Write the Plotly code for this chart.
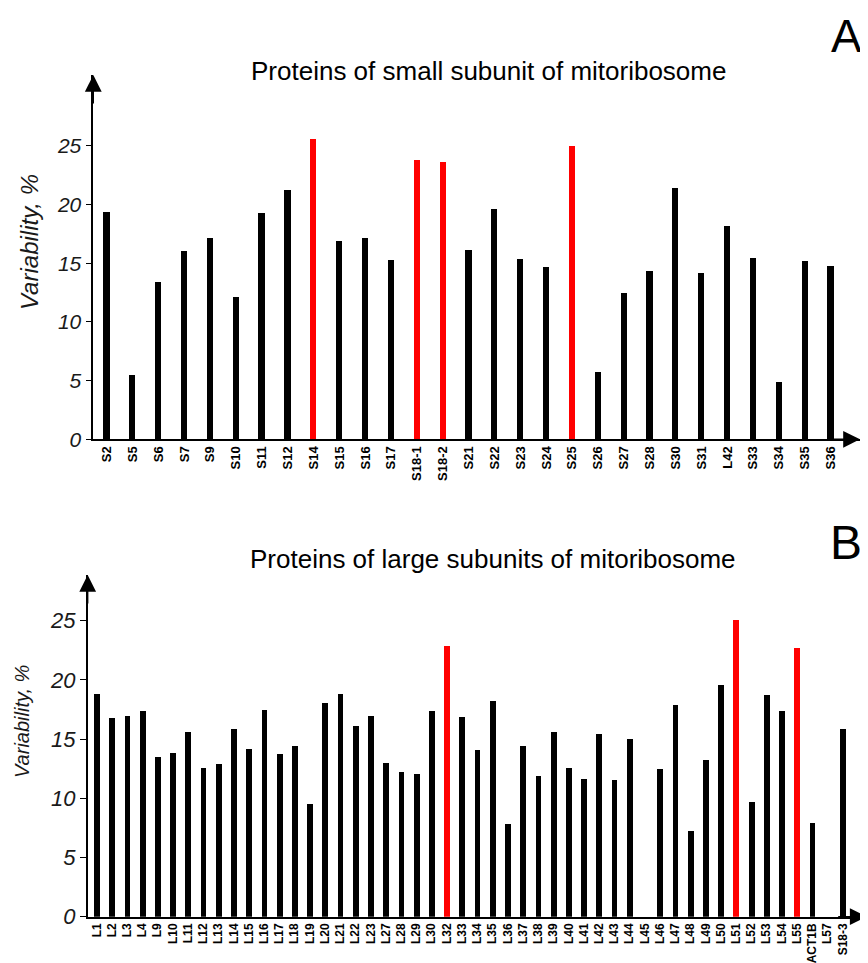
import plotly.graph_objects as go

# ---------------- data ----------------
small_labels = ["S2", "S5", "S6", "S7", "S9", "S10", "S11", "S12", "S14", "S15",
                "S16", "S17", "S18-1", "S18-2", "S21", "S22", "S23", "S24", "S25", "S26",
                "S27", "S28", "S30", "S31", "L42", "S33", "S34", "S35", "S36"]
small_values = [19.4, 5.45, 13.4, 16.0, 17.15, 12.15, 19.3, 21.2, 25.6, 16.9,
                17.15, 15.25, 23.8, 23.6, 16.15, 19.6, 15.4, 14.7, 24.95, 5.7,
                12.45, 14.35, 21.4, 14.15, 18.2, 15.45, 4.85, 15.2, 14.8]
small_highlight = ["S14", "S18-1", "S18-2", "S25"]

large_labels = ["L1", "L2", "L3", "L4", "L9", "L10", "L11", "L12", "L13", "L14",
                "L15", "L16", "L17", "L18", "L19", "L20", "L21", "L22", "L23", "L27",
                "L28", "L29", "L30", "L32", "L33", "L34", "L35", "L36", "L37", "L38",
                "L39", "L40", "L41", "L42", "L43", "L44", "L45", "L46", "L47", "L48",
                "L49", "L50", "L51", "L52", "L53", "L54", "L55", "ACT1B", "L57", "S18-3"]
large_values = [18.8, 16.75, 16.95, 17.35, 13.5, 13.8, 15.6, 12.55, 12.9, 15.85,
                14.2, 17.45, 13.7, 14.4, 9.5, 18.05, 18.8, 16.1, 16.95, 13.0,
                12.2, 12.05, 17.35, 22.9, 16.85, 14.1, 18.2, 7.8, 14.4, 11.85,
                15.6, 12.55, 11.65, 15.45, 11.55, 15.0, None, 12.45, 17.9, 7.25,
                13.2, 19.6, 25.05, 9.7, 18.7, 17.35, 22.7, 7.95, None, 15.85]
large_highlight = ["L32", "L51", "L55"]

small_title = "Proteins of small subunit of mitoribosome"
large_title = "Proteins of large subunits of mitoribosome"
y_title = "Variability, %"
y_ticks = [0, 5, 10, 15, 20, 25]

# ---------------- layout helpers ----------------
OFF = 8  # page body margin
W, H = 868 - OFF, 963 - OFF
def fx(p):
    return (p - OFF) / W
def fy(p):
    return 1 - (p - OFF) / H

RED = "#ff0000"
BLACK = "#000000"
FONT = "Liberation Sans, Arial, sans-serif"

fig = go.Figure()
fig.add_trace(go.Bar(
    x=small_labels, y=small_values, width=0.24,
    marker=dict(color=[RED if l in small_highlight else BLACK for l in small_labels], line=dict(width=0)),
    xaxis="x", yaxis="y", showlegend=False, hoverinfo="x+y"))
fig.add_trace(go.Bar(
    x=large_labels, y=large_values, width=0.38,
    marker=dict(color=[RED if l in large_highlight else BLACK for l in large_labels], line=dict(width=0)),
    xaxis="x2", yaxis="y2", showlegend=False, hoverinfo="x+y"))

top_xr = [-0.52, len(small_labels) - 1 + 1.13]
top_yr = [0, 31.03]
bot_xr = [-0.59, len(large_labels) - 1 + 1.58]
bot_yr = [0, 28.86]

xcommon = dict(type="category", showline=True, linecolor=BLACK, linewidth=1.6,
               showgrid=False, zeroline=False, ticks="", tickangle=-90,
               automargin=False, fixedrange=True)
ycommon = dict(showline=True, linecolor=BLACK, linewidth=1.6, showgrid=False,
               zeroline=False, ticks="outside", ticklen=6, tickwidth=1.3, tickcolor=BLACK,
               tickmode="array", tickvals=y_ticks, automargin=False, fixedrange=True)

fig.update_layout(
    width=W, height=H,
    margin=dict(l=0, r=0, t=0, b=0),
    paper_bgcolor="white", plot_bgcolor="white",
    bargap=0,
    xaxis=dict(xcommon, domain=[fx(93.3), fx(860)], range=top_xr, anchor="y",
               tickmode="array", tickvals=small_labels, ticktext=small_labels,
               tickfont=dict(family=FONT, size=13, color=BLACK, weight="bold")),
    yaxis=dict(ycommon, domain=[fy(439.3), fy(75)], range=top_yr, anchor="x",
               tickfont=dict(family=FONT, size=21, color="#1a1a1a", style="italic")),
    xaxis2=dict(xcommon, domain=[fx(87.7), fx(866.7)], range=bot_xr, anchor="y2",
                tickmode="array", tickvals=large_labels, ticktext=large_labels,
                tickfont=dict(family=FONT, size=12, color=BLACK, weight="bold")),
    yaxis2=dict(ycommon, domain=[fy(916.7), fy(575)], range=bot_yr, anchor="x2",
                tickfont=dict(family=FONT, size=22, color="#1a1a1a", style="italic")),
)

ann = []
# titles
ann.append(dict(text=small_title, xref="paper", yref="paper", x=fx(488), y=fy(71),
                xanchor="center", yanchor="middle", showarrow=False,
                font=dict(family=FONT, size=26, color=BLACK)))
ann.append(dict(text=large_title, xref="paper", yref="paper", x=fx(493), y=fy(559),
                xanchor="center", yanchor="middle", showarrow=False,
                font=dict(family=FONT, size=26, color=BLACK)))
# panel letters
ann.append(dict(text="A", xref="paper", yref="paper", x=fx(864), y=1,
                xanchor="right", yanchor="top", showarrow=False,
                font=dict(family=FONT, size=46, color=BLACK)))
ann.append(dict(text="B", xref="paper", yref="paper", x=fx(864), y=fy(542),
                xanchor="right", yanchor="middle", showarrow=False,
                font=dict(family=FONT, size=48, color=BLACK)))
# y titles
ann.append(dict(text=y_title, xref="paper", yref="paper", x=fx(29), y=fy(242),
                xanchor="center", yanchor="middle", textangle=-90, showarrow=False,
                font=dict(family=FONT, size=24, color="#1a1a1a", style="italic")))
ann.append(dict(text=y_title, xref="paper", yref="paper", x=fx(22), y=fy(722),
                xanchor="center", yanchor="middle", textangle=-90, showarrow=False,
                font=dict(family=FONT, size=20, color="#1a1a1a", style="italic")))
# axis arrows
arrow = dict(text="", showarrow=True, arrowhead=2, arrowsize=2.4, arrowwidth=1.4,
             arrowcolor=BLACK, standoff=0, startstandoff=0)
ann.append(dict(arrow, xref="x", yref="y", x=top_xr[1], y=0, ax=-30, ay=0))
ann.append(dict(arrow, xref="x", yref="y", x=top_xr[0], y=top_yr[1], ax=0, ay=30))
ann.append(dict(arrow, xref="x2", yref="y2", x=bot_xr[1], y=0, ax=-30, ay=0))
ann.append(dict(arrow, xref="x2", yref="y2", x=bot_xr[0], y=bot_yr[1], ax=0, ay=30))
fig.update_layout(annotations=ann)

fig.write_html("out.html", config={"displayModeBar": False})
